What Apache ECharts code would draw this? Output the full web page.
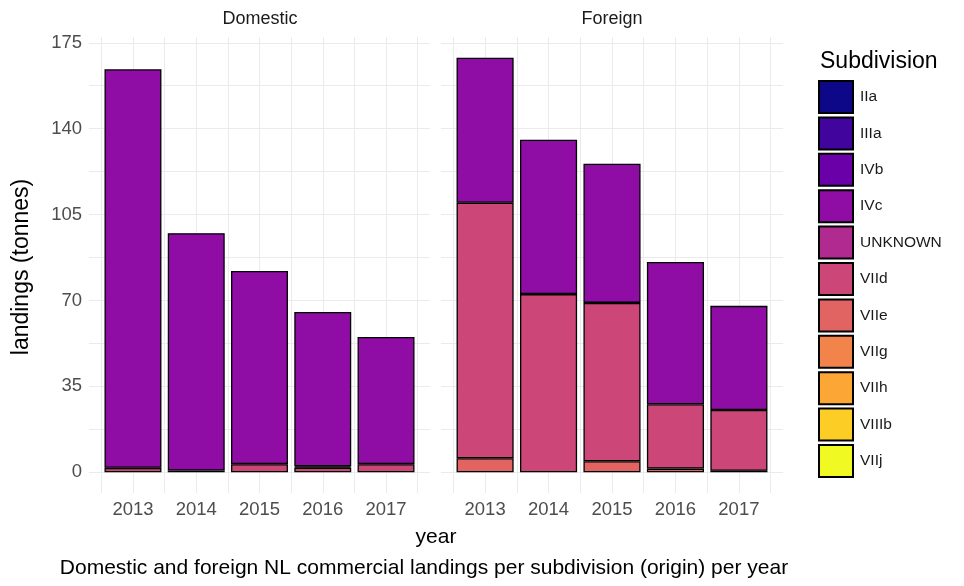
<!DOCTYPE html>
<html>
<head>
<meta charset="utf-8">
<script src="https://cdn.jsdelivr.net/npm/echarts@6/dist/echarts.min.js"></script>
<style>
html,body{margin:0;padding:0;background:#fff;}
#chart{width:964px;height:586px;}
</style>
</head>
<body>
<div id="chart"></div>
<script>
// ---- data ----
var years = [2013, 2014, 2015, 2016, 2017];
var yearLabels = ['2013', '2014', '2015', '2016', '2017'];
var subdivisions = ['IIa', 'IIIa', 'IVb', 'IVc', 'UNKNOWN', 'VIId', 'VIIe', 'VIIg', 'VIIh', 'VIIIb', 'VIIj'];
var subColors = ['#0D0887', '#41049D', '#6A00A8', '#8F0DA4', '#B12A90', '#CC4778', '#E16462', '#F2844B', '#FCA636', '#FCCE25', '#F0F921'];
var panels = ['Domestic', 'Foreign'];
var yTicks = [0, 35, 70, 105, 140, 175];
var yMinor = [0, 17.5, 35, 52.5, 70, 87.5, 105, 122.5, 140, 157.5, 175];
var xMinor = [2012.5, 2013, 2013.5, 2014, 2014.5, 2015, 2015.5, 2016, 2016.5, 2017, 2017.5];

// Domestic landings (tonnes)
var domIVc = [162.4, 96.7, 78.7, 62.9, 51.8];
var domUNKNOWN = [0, 0, 0, 0.5, 0];
var domVIId = [1.8, 0.7, 3.3, 1.9, 3.3];
// Foreign landings (tonnes)
var forIVc = [59.1, 62.9, 56.7, 58.0, 42.4];
var forVIId = [104.1, 72.6, 64.5, 26.2, 24.8];
var forVIIe = [5.7, 0, 4.5, 1.5, 0.6];

var zeros = [0, 0, 0, 0, 0];
var panelData = [
  { IVc: domIVc, UNKNOWN: domUNKNOWN, VIId: domVIId },
  { IVc: forIVc, VIId: forVIId, VIIe: forVIIe }
];

// ---- chart ----
var FONT = 'Liberation Sans, Arial, sans-serif';
var chart = echarts.init(document.getElementById('chart'), null, { renderer: 'canvas' });

var YMIN = -8.445, YMAX = 177.345;
var XMIN = 2012.305, XMAX = 2017.695;
var panelBox = [
  { left: 89, width: 341 },
  { left: 441, width: 342 }
];
var TOP = 37, HEIGHT = 456;

var grids = [], xAxes = [], yAxes = [];
panelBox.forEach(function (b, i) {
  grids.push({ left: b.left, width: b.width, top: TOP, height: HEIGHT });
});
panelBox.forEach(function (b, i) {
  var unit = b.width / (XMAX - XMIN);
  grids.push({ left: b.left + (years[0] - 0.5 - XMIN) * unit, width: years.length * unit, top: TOP, height: HEIGHT });
});

panelBox.forEach(function (b, i) {
  xAxes.push({
    type: 'value', gridIndex: i, min: XMIN, max: XMAX,
    axisLine: { show: false },
    axisTick: { show: false, customValues: xMinor },
    axisLabel: { customValues: years, color: '#4D4D4D', fontSize: 18.5, fontFamily: FONT, margin: 7,
      formatter: function (v) { return String(Math.round(v)); } },
    splitLine: { show: true, lineStyle: { color: '#EBEBEB', width: 1 } }
  });
  yAxes.push({
    type: 'value', gridIndex: i, min: YMIN, max: YMAX,
    axisLine: { show: false },
    axisTick: { show: false, customValues: yMinor },
    axisLabel: { show: i === 0, customValues: yTicks, color: '#4D4D4D', fontSize: 18.5, fontFamily: FONT, margin: 7 },
    splitLine: { show: true, lineStyle: { color: '#EBEBEB', width: 1 } }
  });
});
panelBox.forEach(function (b, i) {
  xAxes.push({
    type: 'category', gridIndex: 2 + i, data: yearLabels, boundaryGap: true,
    axisLine: { show: false }, axisTick: { show: false }, axisLabel: { show: false }, splitLine: { show: false }
  });
  yAxes.push({
    type: 'value', gridIndex: 2 + i, min: YMIN, max: YMAX,
    axisLine: { show: false }, axisTick: { show: false }, axisLabel: { show: false }, splitLine: { show: false }
  });
});

var series = [];
// ggplot stacks first level on top -> ECharts stack bottom first
for (var p = 0; p < panels.length; p++) {
  for (var k = subdivisions.length - 1; k >= 0; k--) {
    var name = subdivisions[k];
    var vals = panelData[p][name] || zeros;
    series.push({
      name: name,
      type: 'bar',
      xAxisIndex: 2 + p, yAxisIndex: 2 + p,
      stack: panels[p],
      barWidth: '90%',
      data: vals.map(function (v) { return v > 0 ? v : '-'; }),
      itemStyle: { color: subColors[k], borderColor: '#000', borderWidth: 1.3 },
      emphasis: { disabled: true },
      animation: false
    });
  }
}

var option = {
  backgroundColor: '#fff',
  animation: false,
  grid: grids,
  xAxis: xAxes,
  yAxis: yAxes,
  legend: {
    data: subdivisions,
    orient: 'vertical',
    left: 818, top: 80,
    padding: 0,
    icon: 'rect',
    itemWidth: 34, itemHeight: 32, itemGap: 2.4,
    selectedMode: false,
    textStyle: { color: '#1a1a1a', fontSize: 15.5, fontFamily: FONT, padding: [0, 0, 0, 2] }
  },
  graphic: [
    { type: 'text', x: 820, y: 62, style: { text: 'Subdivision', fontSize: 23, fontFamily: FONT, fill: '#000', textVerticalAlign: 'middle' } },
    { type: 'text', x: 260, y: 19, style: { text: panels[0], fontSize: 18, fontFamily: FONT, fill: '#1a1a1a', textAlign: 'center', textVerticalAlign: 'middle' } },
    { type: 'text', x: 612, y: 19, style: { text: panels[1], fontSize: 18, fontFamily: FONT, fill: '#1a1a1a', textAlign: 'center', textVerticalAlign: 'middle' } },
    { type: 'text', x: 22, y: 267, rotation: Math.PI / 2, style: { text: 'landings (tonnes)', fontSize: 23, fontFamily: FONT, fill: '#000', textAlign: 'center', textVerticalAlign: 'middle' } },
    { type: 'text', x: 436, y: 537, style: { text: 'year', fontSize: 21, fontFamily: FONT, fill: '#000', textAlign: 'center', textVerticalAlign: 'middle' } },
    { type: 'text', x: 424, y: 568, style: { text: 'Domestic and foreign NL commercial landings per subdivision (origin) per year', fontSize: 21, fontFamily: FONT, fill: '#000', textAlign: 'center', textVerticalAlign: 'middle' } }
  ],
  series: series
};
chart.setOption(option);
</script>
</body>
</html>
